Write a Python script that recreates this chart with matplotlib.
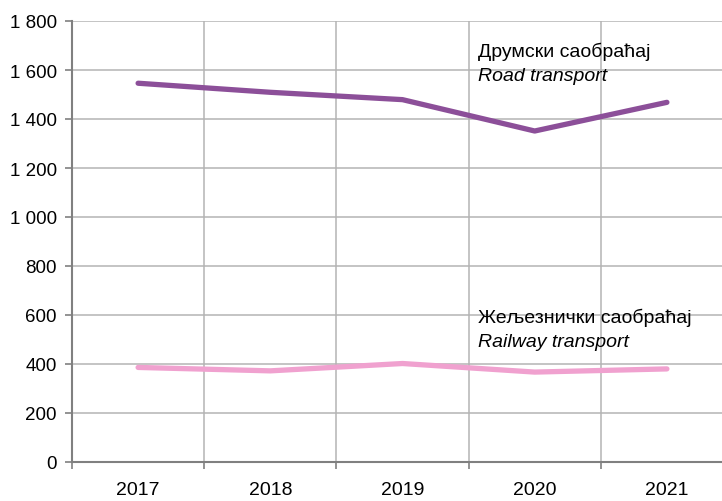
import numpy as np
import matplotlib.pyplot as plt

plt.rcParams['font.family'] = ['Liberation Sans', 'DejaVu Sans']

years = ['2017', '2018', '2019', '2020', '2021']
road = [1546, 1509, 1479, 1351, 1468]
railway = [386, 372, 402, 367, 380]

road_label = ['Друмски саобраћај', 'Road transport']
rail_label = ['Жељезнички саобраћај', 'Railway transport']


def fmt_thousands(v, pos):
    return '{:,.0f}'.format(v).replace(',', ' ')


fig = plt.figure(figsize=(7.22, 5.02), dpi=100)
# површина графика иде мало преко десне ивице слике
ax = fig.add_axes([72 / 722, 1 - 463 / 502, 661 / 722, 441 / 502])

x = np.arange(len(years))
ax.plot(x, road, color='#8c4f99', lw=3.8, solid_capstyle='round', zorder=3)
ax.plot(x, railway, color='#f0a1cf', lw=3.8, solid_capstyle='round', zorder=3)

ax.set_xlim(-0.5, len(years) - 0.5)
ax.set_ylim(0, 1800)
ax.set_yticks(np.arange(0, 1801, 200))
ax.yaxis.set_major_formatter(plt.FuncFormatter(fmt_thousands))

ax.set_xticks(x)
ax.set_xticklabels(years)
ax.set_xticks(np.arange(-0.5, len(years)), minor=True)
ax.tick_params(axis='x', which='major', length=0, pad=14, labelsize=14)
ax.tick_params(axis='x', which='minor', length=5, width=1.2, color='#808080')
ax.tick_params(axis='y', length=5, width=1.2, color='#808080', labelsize=13.5, pad=6)

ax.grid(axis='y', color='#b4b4b4', lw=1.1, zorder=0)
ax.grid(axis='x', which='minor', color='#b4b4b4', lw=1.1, zorder=0)
ax.set_axisbelow(True)

for s in ['top', 'right']:
    ax.spines[s].set_visible(False)
for s in ['left', 'bottom']:
    ax.spines[s].set_color('#808080')
    ax.spines[s].set_linewidth(1.5)

# ознаке серија
ax.text(2.57, 1680, road_label[0], fontsize=14, va='center', ha='left')
ax.text(2.57, 1578, road_label[1], fontsize=14, va='center', ha='left', style='italic')
ax.text(2.57, 593, rail_label[0], fontsize=14, va='center', ha='left')
ax.text(2.57, 491, rail_label[1], fontsize=14, va='center', ha='left', style='italic')

fig.savefig('out.png', dpi=100)
